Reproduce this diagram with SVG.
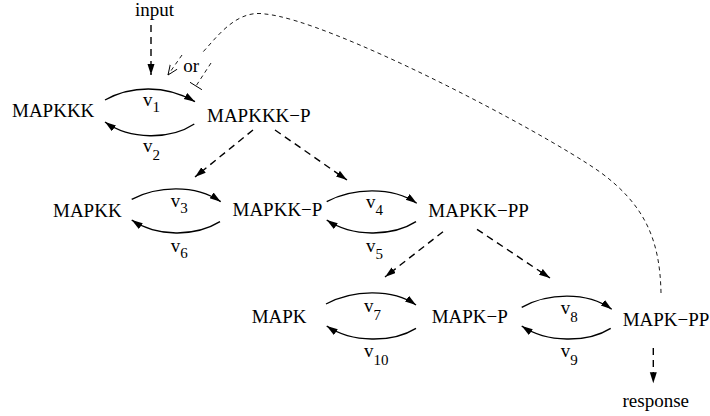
<svg xmlns="http://www.w3.org/2000/svg" width="710" height="416" viewBox="0 0 710 416">
<style>
text{font-family:"Liberation Serif","Times New Roman",serif;font-size:19px;fill:#000}
.sub{font-size:15px}
.rx{fill:none;stroke:#000;stroke-width:1.4;marker-end:url(#ah)}
.da{fill:none;stroke:#000;stroke-width:1.4;stroke-dasharray:7,5;marker-end:url(#ah)}
.fb{fill:none;stroke:#000;stroke-width:0.9;stroke-dasharray:4,3.5}
</style>
<defs>
<marker id="ah" markerUnits="userSpaceOnUse" markerWidth="14" markerHeight="10" refX="11" refY="3.5" orient="auto"><path d="M0,0 L11,3.5 L0,7 z" fill="#000"/></marker>
<marker id="oh" markerUnits="userSpaceOnUse" markerWidth="14" markerHeight="12" refX="10" refY="5" orient="auto"><path d="M0,0.8 L10,5 L0,9.2" fill="none" stroke="#000" stroke-width="0.9"/></marker>
</defs>
<g id="input"><text x="135" y="15.5">input</text></g>
<g id="response"><text x="622.5" y="406.5">response</text></g>
<g id="MAPKKK"><text x="12" y="117.3">MAPKKK</text></g>
<g id="MAPKKK-P"><text x="207" y="121.7">MAPKKK−P</text></g>
<g id="MAPKK"><text x="53" y="216.7">MAPKK</text></g>
<g id="MAPKK-P"><text x="232.5" y="216">MAPKK−P</text></g>
<g id="MAPKK-PP"><text x="428.3" y="217.3">MAPKK−PP</text></g>
<g id="MAPK"><text x="251.7" y="322.7">MAPK</text></g>
<g id="MAPK-P"><text x="431.7" y="322.7">MAPK−P</text></g>
<g id="MAPK-PP"><text x="622.7" y="326">MAPK−PP</text></g>
<g id="connectors">
<path class="rx" d="M105,100 C130,86 165,84 195,101.7"/>
<path class="rx" d="M194.3,124 C170,140 130,140 105,122"/>
<path class="rx" d="M131.7,199.3 C157,186 195,184 220.7,201.7"/>
<path class="rx" d="M220,221.7 C195,237 157,237 131.7,220"/>
<path class="rx" d="M326.7,201.7 C352,188 392,186 416.7,203.3"/>
<path class="rx" d="M416,221.7 C392,237 352,237 326.7,220"/>
<path class="rx" d="M326,304 C352,290 392,288 416,305"/>
<path class="rx" d="M416,328.3 C392,343 352,343 326.7,326"/>
<path class="rx" d="M521.7,307.3 C547,293 587,291 611.7,309.3"/>
<path class="rx" d="M610.7,328.3 C587,343 547,343 521.7,326"/>
<path class="da" d="M151,25 L151,75"/>
<path class="da" d="M253,130 L195,177"/>
<path class="da" d="M275,130 L347,180"/>
<path class="da" d="M443,231.7 L385,277"/>
<path class="da" d="M477,229.3 L550,278"/>
<path class="da" d="M653.3,348 L653.3,383.3"/>
<path class="fb" d="M661,293 C660,240 645,205 600,172 C540,130 330,20 265,14 C235,9 215,40 201,54"/>
<path class="fb" d="M182,55 L168,75" marker-end="url(#oh)"/>
<path class="fb" d="M211,63 L196,86"/>
<path d="M190,82.3 L201.9,89.7" stroke="#000" stroke-width="1" fill="none"/>
<text x="183.3" y="71.7">or</text>
<text x="143" y="106">v<tspan class="sub" dy="6">1</tspan></text>
<text x="143" y="151.7">v<tspan class="sub" dy="8">2</tspan></text>
<text x="170.7" y="206.7">v<tspan class="sub" dy="6.5">3</tspan></text>
<text x="170.7" y="251.7">v<tspan class="sub" dy="6.5">6</tspan></text>
<text x="366" y="208">v<tspan class="sub" dy="7">4</tspan></text>
<text x="366" y="252">v<tspan class="sub" dy="7">5</tspan></text>
<text x="364" y="311.7">v<tspan class="sub" dy="8">7</tspan></text>
<text x="364" y="356.7">v<tspan class="sub" dy="8">10</tspan></text>
<text x="560.7" y="314">v<tspan class="sub" dy="8">8</tspan></text>
<text x="560.7" y="356.7">v<tspan class="sub" dy="8">9</tspan></text>
</g>
</svg>
